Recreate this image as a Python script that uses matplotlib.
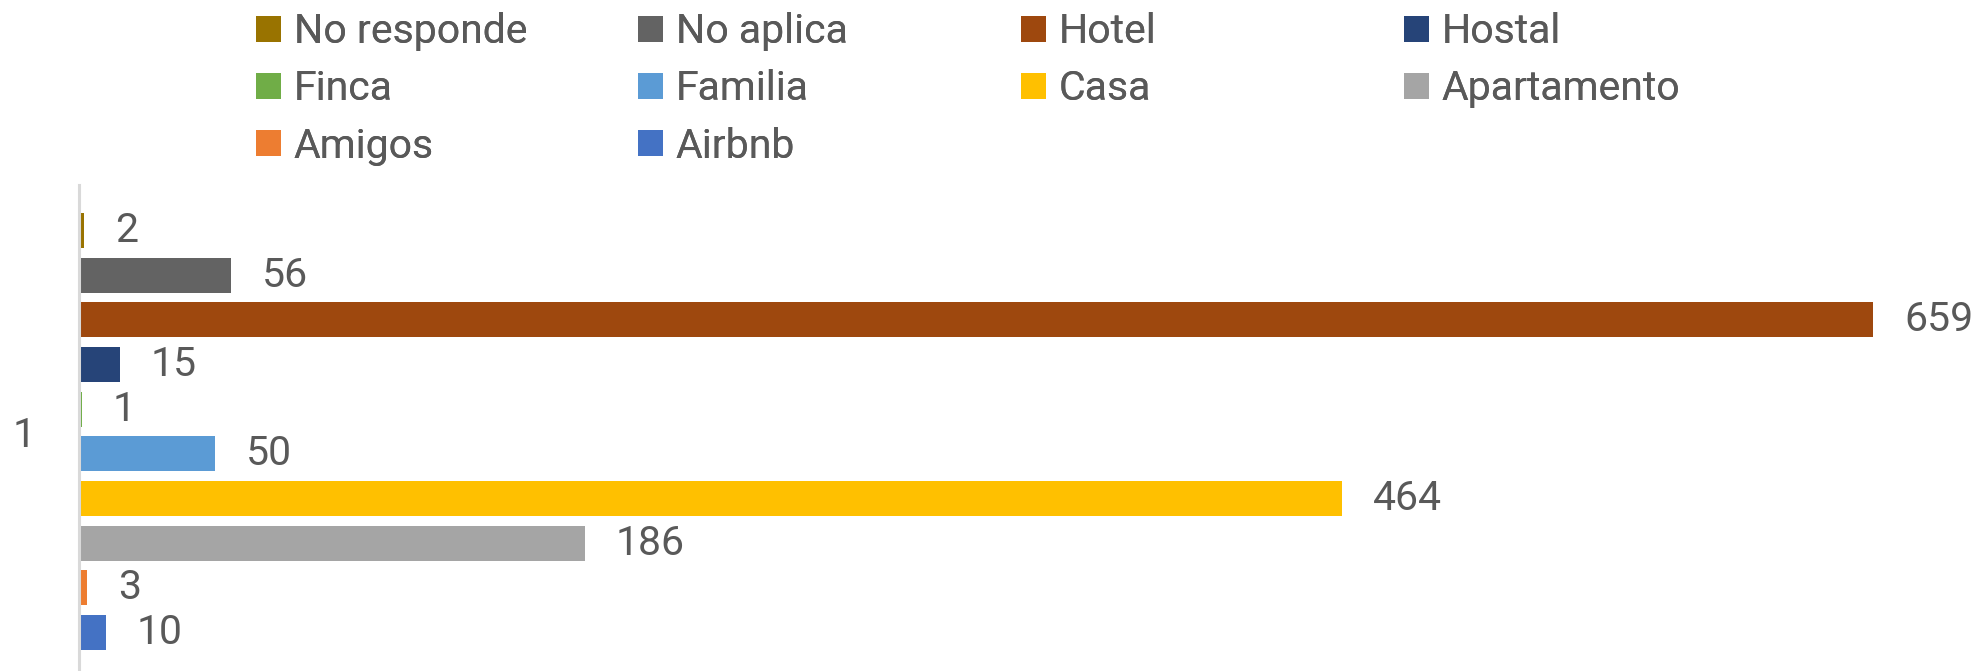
import matplotlib.pyplot as plt
from matplotlib.patches import Patch

# datos (de arriba hacia abajo, como en el grafico)
categorias = ['No responde', 'No aplica', 'Hotel', 'Hostal', 'Finca',
              'Familia', 'Casa', 'Apartamento', 'Amigos', 'Airbnb']
valores = [2, 56, 659, 15, 1, 50, 464, 186, 3, 10]
colores = ['#997300', '#636363', '#9E480E', '#264478', '#70AD47',
           '#5B9BD5', '#FFC000', '#A5A5A5', '#ED7D31', '#4472C4']
etiqueta_eje = ['1']

plt.rcParams['font.family'] = ['Roboto', 'DejaVu Sans']
gris = '#595959'
fs = 29.5

fig = plt.figure(figsize=(19.85, 6.71), dpi=100)
ax = fig.add_axes([79 / 1985, 0, 1 - 79 / 1985, 1 - 185 / 671])

pos = list(range(len(valores)))
barras = ax.barh(pos, valores, height=0.78, color=colores)
ax.bar_label(barras, labels=[str(v) for v in valores], padding=22,
             fontsize=fs, color=gris)

ax.set_xlim(0, 700)
ax.set_ylim(9.86, -1.02)
ax.set_xticks([])
ax.set_yticks([4.5])
ax.set_yticklabels(etiqueta_eje, fontsize=fs, color=gris)
ax.tick_params(axis='y', length=0, pad=31)
for s in ['top', 'right', 'bottom']:
    ax.spines[s].set_visible(False)
ax.spines['left'].set_color('#D9D9D9')
ax.spines['left'].set_linewidth(2.2)

# leyenda: cuatro columnas con ancho fijo, como en Excel
columnas = [[0, 4, 8], [1, 5, 9], [2, 6], [3, 7]]
x_col = [256, 638, 1021, 1404]
for c, idx in enumerate(columnas):
    handles = [Patch(facecolor=colores[i]) for i in idx]
    etiquetas = [categorias[i] for i in idx]
    leg = fig.legend(handles, etiquetas, loc='upper left',
                     bbox_to_anchor=(x_col[c] / 1985, 1 - 12 / 671),
                     frameon=False, fontsize=fs, labelcolor=gris,
                     handlelength=0.62, handleheight=0.6, handletextpad=0.3,
                     labelspacing=0.45, borderpad=0, borderaxespad=0)
    fig.add_artist(leg)

fig.savefig('out.png', dpi=100)
